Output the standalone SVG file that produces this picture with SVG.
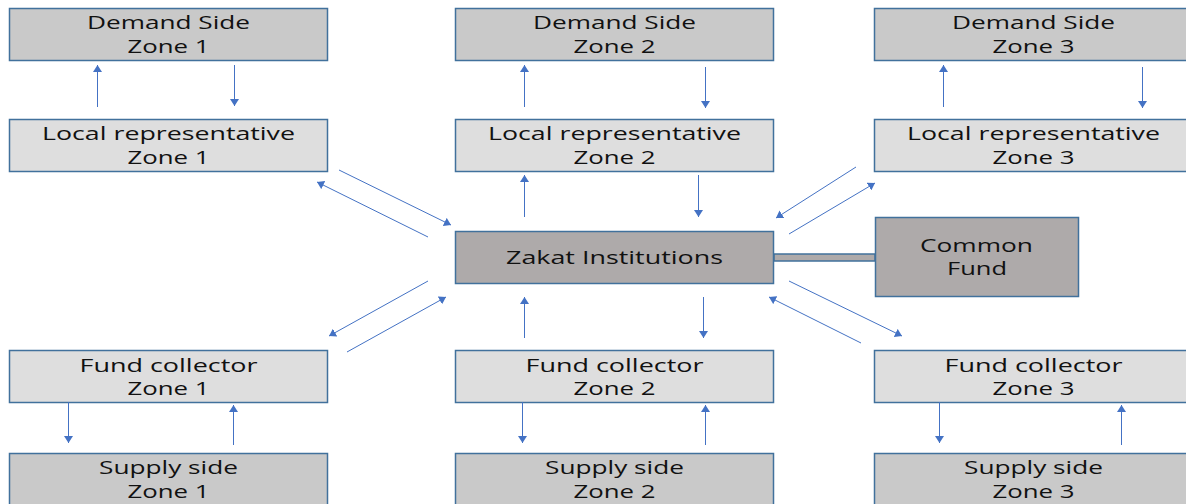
<svg xmlns="http://www.w3.org/2000/svg" width="1186" height="504" viewBox="0 0 1186 504">
<defs>
<style>
.dk{fill:#c9c9c9;stroke:#41719c;stroke-width:1.5}
.lt{fill:#dedede;stroke:#41719c;stroke-width:1.5}
.md{fill:#aeaaaa;stroke:#41719c;stroke-width:1.5}
text{font-family:"Open Sans","Liberation Sans",sans-serif;font-size:18px;fill:#111;text-anchor:middle}
.c line{stroke:#4472c4;stroke-width:1;marker-end:url(#ah)}
</style>
<marker id="ah" markerUnits="userSpaceOnUse" markerWidth="7" markerHeight="9" refX="7" refY="4.5" orient="auto">
<path d="M0,0 L7,4.5 L0,9 z" fill="#4472c4"/>
</marker>
</defs>
<rect width="1186" height="504" fill="#fff"/>

<g id="demand1"><rect class="dk" x="9.5" y="8.5" width="318" height="52"/><text x="168.5" y="29" textLength="163" lengthAdjust="spacingAndGlyphs">Demand Side</text><text x="168.5" y="53" textLength="82" lengthAdjust="spacingAndGlyphs">Zone 1</text></g>
<g id="demand2"><rect class="dk" x="455.5" y="8.5" width="318" height="52"/><text x="614.5" y="29" textLength="163" lengthAdjust="spacingAndGlyphs">Demand Side</text><text x="614.5" y="53" textLength="82" lengthAdjust="spacingAndGlyphs">Zone 2</text></g>
<g id="demand3"><rect class="dk" x="874.5" y="8.5" width="318" height="52"/><text x="1033.5" y="29" textLength="163" lengthAdjust="spacingAndGlyphs">Demand Side</text><text x="1033.5" y="53" textLength="82" lengthAdjust="spacingAndGlyphs">Zone 3</text></g>

<g id="local1"><rect class="lt" x="9.5" y="119.5" width="318" height="52"/><text x="168.5" y="140" textLength="253" lengthAdjust="spacingAndGlyphs">Local representative</text><text x="168.5" y="164" textLength="82" lengthAdjust="spacingAndGlyphs">Zone 1</text></g>
<g id="local2"><rect class="lt" x="455.5" y="119.5" width="318" height="52"/><text x="614.5" y="140" textLength="253" lengthAdjust="spacingAndGlyphs">Local representative</text><text x="614.5" y="164" textLength="82" lengthAdjust="spacingAndGlyphs">Zone 2</text></g>
<g id="local3"><rect class="lt" x="874.5" y="119.5" width="318" height="52"/><text x="1033.5" y="140" textLength="253" lengthAdjust="spacingAndGlyphs">Local representative</text><text x="1033.5" y="164" textLength="82" lengthAdjust="spacingAndGlyphs">Zone 3</text></g>

<g id="bar"><rect class="md" x="774" y="254" width="101" height="7"/></g>
<g id="zakat"><rect class="md" x="455.5" y="231.5" width="318" height="52"/><text x="614.5" y="264" textLength="217" lengthAdjust="spacingAndGlyphs">Zakat Institutions</text></g>
<g id="common"><rect class="md" x="875.5" y="217.5" width="203" height="79"/><text x="976.5" y="252" textLength="113" lengthAdjust="spacingAndGlyphs">Common</text><text x="977" y="275" textLength="60" lengthAdjust="spacingAndGlyphs">Fund</text></g>

<g id="fund1"><rect class="lt" x="9.5" y="350.5" width="318" height="52"/><text x="168.5" y="372" textLength="178" lengthAdjust="spacingAndGlyphs">Fund collector</text><text x="168.5" y="395" textLength="82" lengthAdjust="spacingAndGlyphs">Zone 1</text></g>
<g id="fund2"><rect class="lt" x="455.5" y="350.5" width="318" height="52"/><text x="614.5" y="372" textLength="178" lengthAdjust="spacingAndGlyphs">Fund collector</text><text x="614.5" y="395" textLength="82" lengthAdjust="spacingAndGlyphs">Zone 2</text></g>
<g id="fund3"><rect class="lt" x="874.5" y="350.5" width="318" height="52"/><text x="1033.5" y="372" textLength="178" lengthAdjust="spacingAndGlyphs">Fund collector</text><text x="1033.5" y="395" textLength="82" lengthAdjust="spacingAndGlyphs">Zone 3</text></g>

<g id="supply1"><rect class="dk" x="9.5" y="453.5" width="318" height="55"/><text x="168.5" y="474" textLength="139" lengthAdjust="spacingAndGlyphs">Supply side</text><text x="168.5" y="498" textLength="82" lengthAdjust="spacingAndGlyphs">Zone 1</text></g>
<g id="supply2"><rect class="dk" x="455.5" y="453.5" width="318" height="55"/><text x="614.5" y="474" textLength="139" lengthAdjust="spacingAndGlyphs">Supply side</text><text x="614.5" y="498" textLength="82" lengthAdjust="spacingAndGlyphs">Zone 2</text></g>
<g id="supply3"><rect class="dk" x="874.5" y="453.5" width="318" height="55"/><text x="1033.5" y="474" textLength="139" lengthAdjust="spacingAndGlyphs">Supply side</text><text x="1033.5" y="498" textLength="82" lengthAdjust="spacingAndGlyphs">Zone 3</text></g>

<g id="connectors" class="c">
<line x1="97.5" y1="107" x2="97.5" y2="65"/>
<line x1="234.5" y1="65" x2="234.5" y2="106"/>
<line x1="524.5" y1="107" x2="524.5" y2="65"/>
<line x1="705.5" y1="67" x2="705.5" y2="108"/>
<line x1="943.5" y1="107" x2="943.5" y2="65"/>
<line x1="1142.5" y1="67" x2="1142.5" y2="108"/>

<line x1="524.5" y1="217" x2="524.5" y2="175"/>
<line x1="698.5" y1="175" x2="698.5" y2="217"/>
<line x1="524.5" y1="338" x2="524.5" y2="297"/>
<line x1="703.5" y1="297" x2="703.5" y2="338"/>

<line x1="339" y1="170" x2="451" y2="225"/>
<line x1="428" y1="237" x2="317" y2="182"/>
<line x1="428" y1="281" x2="329" y2="336"/>
<line x1="347" y1="352" x2="446" y2="297"/>

<line x1="856" y1="167" x2="776" y2="218"/>
<line x1="789" y1="234" x2="875" y2="183"/>
<line x1="789" y1="281" x2="902" y2="336"/>
<line x1="861" y1="343" x2="769" y2="297"/>

<line x1="68.5" y1="402" x2="68.5" y2="443"/>
<line x1="233.5" y1="445" x2="233.5" y2="405"/>
<line x1="522.5" y1="402" x2="522.5" y2="443"/>
<line x1="705.5" y1="445" x2="705.5" y2="405"/>
<line x1="939.5" y1="402" x2="939.5" y2="443"/>
<line x1="1121.5" y1="445" x2="1121.5" y2="405"/>
</g>
</svg>
